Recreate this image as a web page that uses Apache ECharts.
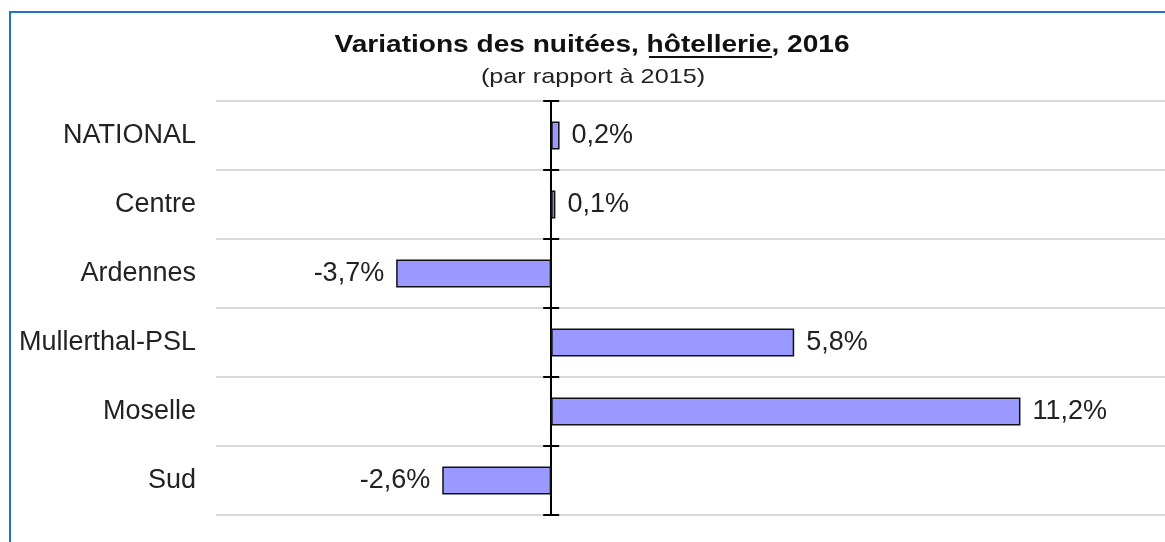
<!DOCTYPE html>
<html><head><meta charset="utf-8">
<script src="https://cdn.jsdelivr.net/npm/echarts@6/dist/echarts.min.js"></script>
<style>html,body{margin:0;padding:0;background:#fff}#c{width:1165px;height:542px}</style>
</head><body><div id="c"></div>
<script>
const categories = ['NATIONAL', 'Centre', 'Ardennes', 'Mullerthal-PSL', 'Moselle', 'Sud'];
const values = [0.2, 0.1, -3.7, 5.8, 11.2, -2.6];
const titleParts = ['Variations des nuitées, ', 'hôtellerie', ', 2016'];
const subtitleText = '(par rapport à 2015)';

const fmt = v => v.toFixed(1).replace('.', ',') + '%';
const chart = echarts.init(document.getElementById('c'));
const FONT = '"Liberation Sans", Arial, sans-serif';
const XMIN = -8, XMAX = 14.65;

chart.setOption({
  backgroundColor: '#fff',
  animation: false,
  graphic: [
    { type: 'rect', shape: { x: 10, y: 12, width: 1200, height: 600 }, style: { fill: 'none', stroke: '#1e73c8', lineWidth: 2 }, silent: true },
    { type: 'text', x: 592, y: 45, scaleX: 1.17, silent: true,
      style: { text: titleParts.join(''), font: 'bold 24px ' + FONT, fill: '#111', textAlign: 'center', textVerticalAlign: 'middle' } },
    { type: 'line', shape: { x1: 649, y1: 57, x2: 772, y2: 57 }, style: { stroke: '#111', lineWidth: 2 }, silent: true },
    { type: 'text', x: 593, y: 77, scaleX: 1.2, silent: true,
      style: { text: subtitleText, font: '21px ' + FONT, fill: '#222', textAlign: 'center', textVerticalAlign: 'middle' } }
  ],
  grid: { left: 216, right: 0, top: 101, bottom: 27 },
  xAxis: [
    { type: 'value', min: XMIN, max: XMAX, show: false, splitLine: { show: false } },
    { type: 'value', min: XMIN, max: XMAX, show: false, splitLine: { show: false } }
  ],
  yAxis: [
    {
      type: 'category', data: categories, inverse: true,
      axisLine: { show: false, onZero: false },
      axisTick: { show: false },
      axisLabel: { show: true, fontFamily: FONT, fontSize: 27, color: '#222', margin: 20 },
      splitLine: { show: true, lineStyle: { color: '#dadada', width: 2 } }
    },
    {
      type: 'category', data: categories, inverse: true,
      axisLine: { show: true, onZero: true, onZeroAxisIndex: 0, lineStyle: { color: '#000', width: 2 } },
      axisTick: { show: true, length: 8, lineStyle: { color: '#000', width: 2 } },
      axisLabel: { show: false }, splitLine: { show: false }
    },
    {
      type: 'category', data: categories, inverse: true,
      axisLine: { show: true, onZero: true, onZeroAxisIndex: 1, lineStyle: { color: '#000', width: 2 } },
      axisTick: { show: true, inside: true, length: 8, lineStyle: { color: '#000', width: 2 } },
      axisLabel: { show: false }, splitLine: { show: false }
    }
  ],
  series: [{
    type: 'bar', xAxisIndex: 0, yAxisIndex: 0, barWidth: 28,
    data: values.map(v => ({ value: v, label: { position: v < 0 ? 'left' : 'right' } })),
    itemStyle: { color: '#9999ff', borderColor: '#111', borderWidth: 1.5 },
    label: {
      show: true, fontFamily: FONT, fontSize: 27, color: '#222', distance: 12,
      formatter: p => fmt(p.value)
    }
  }]
});
</script></body></html>
